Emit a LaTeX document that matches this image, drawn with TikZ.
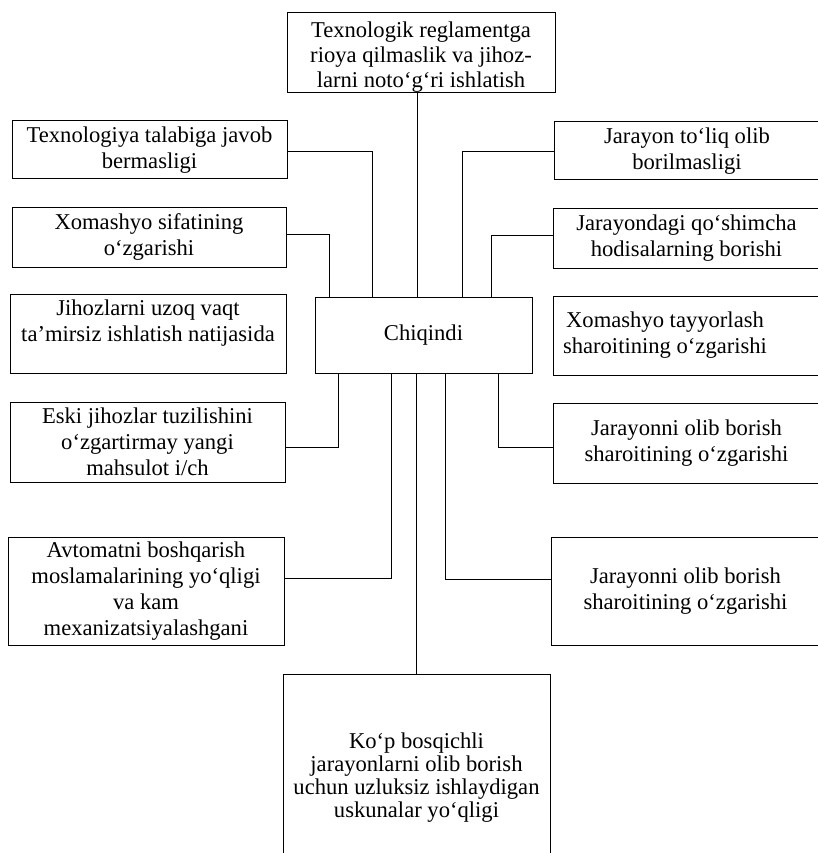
\documentclass[tikz,border=0pt]{standalone}
\usepackage{fontspec}
\setmainfont{Liberation Serif}
\begin{document}
\begin{tikzpicture}[x=1pt,y=-1pt,
  box/.style={draw=black, line width=1pt, rectangle, inner sep=0pt, align=center,
    font=\fontsize{22.6}{26}\selectfont},
  txt/.style={inner sep=0pt, align=center, font=\fontsize{22.6}{26}\selectfont},
  link/.style={draw=black, line width=1pt}]
\path[use as bounding box] (0,0) rectangle (818,853);
\clip (0,0) rectangle (818,853);
\fill[white] (0,0) rectangle (818,853);

% central node
\node[box, minimum width=217pt, minimum height=76pt] (c) at (423.5,335) {Chiqindi};

% top
\node[box, minimum width=268pt, minimum height=80pt] (t) at (421,53) {};
\node[txt, font=\fontsize{22.6}{25}\selectfont] (tt) at ([yshift=-4pt]t.center)
  {Texnologik reglamentga\\rioya qilmaslik va jihoz-\\larni noto‘g‘ri ishlatish};

% left column
\node[box, minimum width=275pt, minimum height=58pt] (l1) at (149.5,150)
  {Texnologiya talabiga javob\\bermasligi};
\node[box, minimum width=274pt, minimum height=60pt] (l2) at (149,237)
  {Xomashyo sifatining\\o‘zgarishi};
\node[box, minimum width=276pt, minimum height=79pt] (l3) at (148,333.5) {};
\node[txt] (l3t) at ([yshift=10pt]l3.center)
  {Jihozlarni uzoq vaqt\\ta’mirsiz ishlatish natijasida};
\node[box, minimum width=275pt, minimum height=80pt] (l4) at (147.5,442)
  {Eski jihozlar tuzilishini\\o‘zgartirmay yangi\\mahsulot i/ch};
\node[box, minimum width=276pt, minimum height=108pt] (l5) at (146,591)
  {Avtomatni boshqarish\\moslamalarining yo‘qligi\\va kam\\mexanizatsiyalashgani};

% right column
\node[box, minimum width=266pt, minimum height=58pt] (r1) at (687,151)
  {Jarayon to‘liq olib\\borilmasligi};
\node[box, minimum width=267pt, minimum height=60pt] (r2) at (686.5,238)
  {Jarayondagi qo‘shimcha\\hodisalarning borishi};
\node[box, minimum width=267pt, minimum height=79pt] (r3) at (686.5,335.5) {};
\node[txt] (r3t) at ([xshift=-21.5pt]r3.center)
  {Xomashyo tayyorlash\\sharoitining o‘zgarishi};
\node[box, minimum width=267pt, minimum height=80pt] (r4) at (686.5,443)
  {Jarayonni olib borish\\sharoitining o‘zgarishi};
\node[box, minimum width=269pt, minimum height=108pt] (r5) at (685.5,591)
  {Jarayonni olib borish\\sharoitining o‘zgarishi};

% bottom
\node[box, minimum width=267pt, minimum height=207pt, font=\fontsize{22.6}{23}\selectfont] (b) at (416.5,777.5)
  {Ko‘p bosqichli\\jarayonlarni olib borish\\uchun uzluksiz ishlaydigan\\uskunalar yo‘qligi};

% connectors into the top of the central node
\draw[link] ([xshift=-4pt]t.south) -- ([xshift=-4pt]t.south |- c.north);
\draw[link] ([yshift=-2pt]l1.east) -| ([xshift=-51.5pt]c.north);
\draw[link] ([yshift=3pt]l2.east) -| ([xshift=-94.5pt]c.north);
\draw[link] ([yshift=-1pt]r1.west) -| ([xshift=38.5pt]c.north);
\draw[link] ([yshift=3pt]r2.west) -| ([xshift=67.5pt]c.north);

% connectors out of the bottom of the central node
\draw[link] ([yshift=-5pt]l4.east) -| ([xshift=-85.5pt]c.south);
\draw[link] ([yshift=13pt]l5.east) -| ([xshift=-32.5pt]c.south);
\draw[link] ([yshift=-4pt]r4.west) -| ([xshift=74.5pt]c.south);
\draw[link] ([yshift=12pt]r5.west) -| ([xshift=21.5pt]c.south);
\draw[link] (b.north) -- (b.north |- c.south);
\end{tikzpicture}
\end{document}
